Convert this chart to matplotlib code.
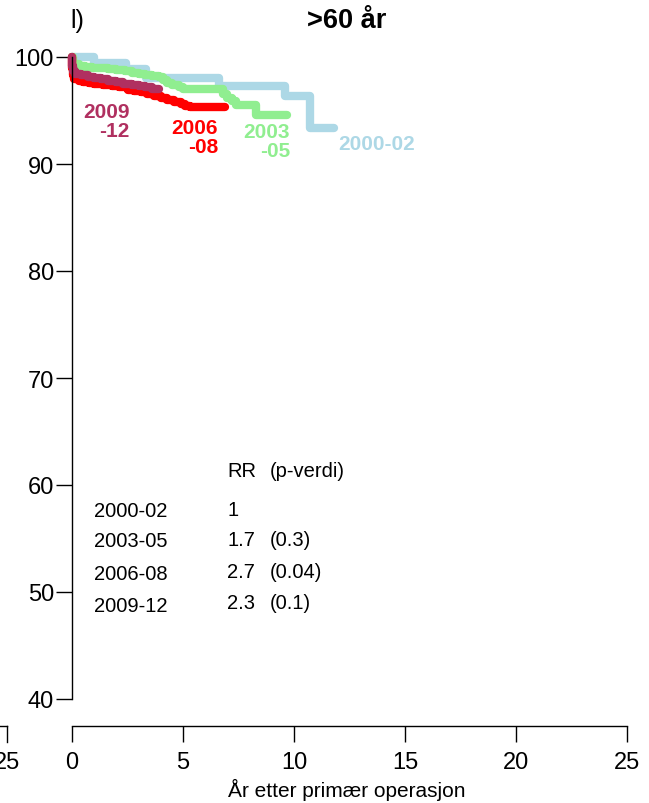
import matplotlib
matplotlib.use("Agg")
import matplotlib.pyplot as plt
from matplotlib.lines import Line2D

plt.rcParams['font.family'] = ['Liberation Sans', 'DejaVu Sans']

# ---- data ----
t_2000 = [0, 1.0, 2.45, 3.35, 6.6, 9.6, 10.7, 11.8]
s_2000 = [100, 99.4, 98.85, 98.07, 97.3, 96.4, 93.4, 93.4]

t_2003 = [0, 0.05, 0.3, 0.6, 0.9, 1.2, 1.6, 2.0, 2.4, 2.7, 3.0, 3.3, 3.6, 3.9,
          4.1, 4.3, 4.5, 4.8, 5.0, 6.0, 6.8, 7.0, 7.2, 7.4, 8.3, 9.7]
s_2003 = [100, 99.3, 99.2, 99.1, 99.0, 98.95, 98.85, 98.75, 98.65, 98.55, 98.45,
          98.35, 98.25, 98.1, 97.85, 97.6, 97.4, 97.2, 97.05, 97.0, 96.5, 96.2,
          95.9, 95.5, 94.6, 94.6]

t_2006 = [0, 0.01, 0.05, 0.1, 0.3, 0.5, 0.75, 1.0, 1.4, 1.8, 2.1, 2.5, 2.8, 3.1,
          3.4, 3.7, 4.0, 4.3, 4.6, 4.9, 5.1, 5.3, 6.9]
s_2006 = [100, 99.0, 98.3, 97.9, 97.8, 97.7, 97.6, 97.5, 97.4, 97.3, 97.15, 96.95,
          96.85, 96.7, 96.55, 96.4, 96.2, 96.0, 95.8, 95.6, 95.45, 95.3, 95.3]

t_2009 = [0, 0.01, 0.05, 0.15, 0.4, 0.7, 1.0, 1.3, 1.6, 2.0, 2.3, 2.7, 3.0, 3.3,
          3.6, 3.9]
s_2009 = [100, 99.2, 98.7, 98.4, 98.3, 98.15, 98.05, 97.9, 97.8, 97.65, 97.5, 97.4,
          97.3, 97.15, 97.0, 97.0]

periods = ["2000-02", "2003-05", "2006-08", "2009-12"]
curve_labels = ["2000-02", "2003\n-05", "2006\n-08", "2009\n-12"]
colors = ["#ADD8E6", "#90EE90", "#FF0000", "#B03060"]
rr = ["1", "1.7", "2.7", "2.3"]
pvals = ["", "(0.3)", "(0.04)", "(0.1)"]

x_ticks = [0, 5, 10, 15, 20, 25]
y_ticks = [40, 50, 60, 70, 80, 90, 100]

W, H = 649, 804
fig = plt.figure(figsize=(W / 100, H / 100), dpi=100)
ax = fig.add_axes([72 / W, (H - 700) / H, 555 / W, 642 / H])

series = [(t_2000, s_2000), (t_2003, s_2003), (t_2006, s_2006), (t_2009, s_2009)]
for (t, s), c in zip(series, colors):
    ax.plot(t, s, drawstyle='steps-post', color=c, lw=6,
            solid_capstyle='round', solid_joinstyle='round', clip_on=False)

# curve labels
lab_pos = [(15.45, 91.92), (9.82, 92.15), (6.58, 92.52), (2.61, 94.02)]
for lab, (x, y), c in zip(curve_labels, lab_pos, colors):
    ax.text(x, y, lab, color=c, fontsize=15, fontweight='bold',
            ha='right', va='center', multialignment='right', linespacing=1.0)

# RR table
ax.text(7.0, 60.87, "RR", fontsize=14.5, ha='left', va='baseline')
ax.text(8.9, 60.87, "(p-verdi)", fontsize=14.5, ha='left', va='baseline')
left_y = [57.13, 54.27, 51.21, 48.22]
right_y = [57.22, 54.39, 51.43, 48.48]
for p, r, pv, yl, yr in zip(periods, rr, pvals, left_y, right_y):
    ax.text(1.0, yl, p, fontsize=14.5, ha='left', va='baseline')
    ax.text(7.0, yr, r, fontsize=14.5, ha='left', va='baseline')
    if pv:
        ax.text(8.9, yr, pv, fontsize=14.5, ha='left', va='baseline')

ax.set_xlim(0, 25)
ax.set_ylim(40, 100)
ax.set_xticks(x_ticks)
ax.set_yticks(y_ticks)
for sp in ['top', 'right']:
    ax.spines[sp].set_visible(False)
ax.spines['bottom'].set_position(('outward', 27 * 0.72))
ax.spines['bottom'].set_linewidth(1.0)
ax.spines['left'].set_linewidth(1.0)
ax.tick_params(axis='both', direction='out', length=11.5, width=1.0, labelsize=17)
ax.tick_params(axis='x', pad=6.5)
ax.tick_params(axis='y', pad=1.5)
ax.patch.set_visible(False)

# titles
fig.text(347 / W, 1 - 28 / H, ">60 år", fontsize=19.5, fontweight='bold',
         ha='center', va='baseline')
fig.text(70 / W, 1 - 28 / H, "l)", fontsize=18, ha='left', va='baseline')
fig.text(347 / W, 1 - 797 / H, "År etter primær operasjon", fontsize=15,
         ha='center', va='baseline')

# partial axis of neighbouring panel at left edge
fig.add_artist(Line2D([0, 7.3 / W], [1 - 726.7 / H, 1 - 726.7 / H],
                      transform=fig.transFigure, color='black', lw=1.0))
fig.add_artist(Line2D([7.3 / W, 7.3 / W], [1 - 726.7 / H, 1 - 742.7 / H],
                      transform=fig.transFigure, color='black', lw=1.0))
fig.text(7.3 / W, 1 - 751.7 / H, "25", fontsize=17, ha='center', va='top')

fig.savefig("out.png", dpi=100, facecolor='white')
